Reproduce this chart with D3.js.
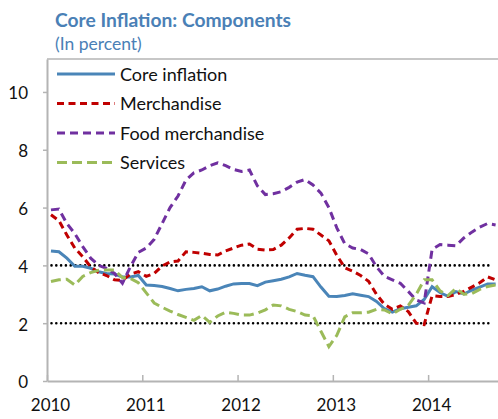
<!DOCTYPE html>
<html>
<head>
<meta charset="utf-8">
<script src="https://cdn.jsdelivr.net/npm/d3@7"></script>
<style>
  body { margin: 0; background: #fff; }
  svg { display: block; font-family: Lato, "Noto Sans", sans-serif; }
</style>
</head>
<body>
<svg id="chart" width="498" height="419"></svg>
<script>
// monthly data, Jan 2010 - Sep 2014
const startYear = 2010
const core = [4.5, 4.47, 4.25, 3.97, 3.97, 3.9, 3.78, 3.72, 3.7, 3.6, 3.6, 3.65,
  3.32, 3.3, 3.27, 3.2, 3.12, 3.17, 3.2, 3.26, 3.12, 3.18, 3.28, 3.36,
  3.37, 3.37, 3.3, 3.42, 3.47, 3.52, 3.6, 3.72, 3.66, 3.61, 3.25, 2.93,
  2.92, 2.96, 3.02, 2.97, 2.92, 2.75, 2.5, 2.38, 2.5, 2.55, 2.6, 2.82,
  3.26, 3.06, 2.93, 3.09, 3.01, 3.14, 3.25, 3.36, 3.36]
const merchandise = [5.75, 5.55, 5.05, 4.6, 4.3, 3.95, 3.75, 3.65, 3.5, 3.48, 3.7, 3.78,
  3.62, 3.72, 3.98, 4.12, 4.15, 4.47, 4.45, 4.42, 4.38, 4.36, 4.5, 4.6,
  4.7, 4.74, 4.56, 4.53, 4.55, 4.7, 4.95, 5.25, 5.28, 5.25, 5.05, 4.85,
  4.35, 3.92, 3.8, 3.65, 3.45, 3.0, 2.65, 2.48, 2.6, 2.4, 2.0, 1.95,
  2.95, 2.92, 2.92, 3.0, 3.1, 3.25, 3.4, 3.6, 3.5]
const foodMerchandise = [5.92, 5.95, 5.45, 5.1, 4.65, 4.25, 4.0, 3.9, 3.72, 3.38, 3.95, 4.45,
  4.6, 4.9, 5.45, 6.0, 6.4, 6.95, 7.2, 7.3, 7.45, 7.55, 7.45, 7.32,
  7.25, 7.3, 6.75, 6.45, 6.48, 6.55, 6.7, 6.88, 6.97, 6.78, 6.5, 6.0,
  5.3, 4.75, 4.6, 4.55, 4.4, 3.95, 3.62, 3.5, 3.38, 3.1, 2.8, 2.7,
  4.55, 4.72, 4.7, 4.68, 4.95, 5.15, 5.32, 5.45, 5.4]
const services = [3.44, 3.5, 3.52, 3.32, 3.62, 3.75, 3.83, 3.84, 3.84, 3.58, 3.55, 3.4,
  3.05, 2.7, 2.55, 2.42, 2.3, 2.2, 2.1, 2.27, 2.03, 2.25, 2.38, 2.34,
  2.28, 2.28, 2.35, 2.46, 2.63, 2.6, 2.48, 2.4, 2.28, 2.26, 1.72, 1.19,
  1.58, 2.22, 2.36, 2.36, 2.38, 2.48, 2.46, 2.32, 2.48, 2.62, 3.0, 3.5,
  3.5, 3.12, 2.95, 3.2, 3.0, 3.02, 3.17, 3.27, 3.32]
const seriesNames = ['Core inflation', 'Merchandise', 'Food merchandise', 'Services']
const yearTicks = [2010, 2011, 2012, 2013, 2014]
const yTicks = [0, 2, 4, 6, 8, 10]
const refLines = [4, 2]

const styles = [
  { color: '#4a85b8', dash: null },
  { color: '#c00000', dash: '7,4.5' },
  { color: '#7030a0', dash: '8,5' },
  { color: '#9bbb59', dash: '10,5' }
]
const allSeries = [core, merchandise, foodMerchandise, services]

const svg = d3.select('#chart')
const plotLeft = 47, plotTop = 59, plotBottom = 381
const monthW = 7.94

const x = d3.scaleLinear()
  .domain([startYear, startYear + core.length / 12])
  .range([plotLeft, plotLeft + core.length * monthW])
const y = d3.scaleLinear().domain([0, 11.14]).range([plotBottom, plotTop])

// title
svg.append('text')
  .attr('x', 55).attr('y', 27)
  .attr('font-size', 19).attr('font-weight', 'bold')
  .attr('fill', '#4a80b6')
  .attr('textLength', 236).attr('lengthAdjust', 'spacingAndGlyphs')
  .text('Core Inflation: Components')
svg.append('text')
  .attr('x', 55).attr('y', 50)
  .attr('font-size', 17.5)
  .attr('fill', '#4a80b6')
  .text('(In percent)')

// header rule
svg.append('line')
  .attr('x1', plotLeft).attr('x2', 498)
  .attr('y1', plotTop).attr('y2', plotTop)
  .attr('stroke', '#b4b4b4').attr('stroke-width', 1.5)

// y axis
const yAxis = svg.append('g')
  .attr('transform', `translate(${plotLeft},0)`)
  .call(d3.axisLeft(y).tickValues(yTicks).tickSizeInner(4).tickSizeOuter(0).tickPadding(15))
yAxis.select('.domain').attr('stroke', '#b4b4b4').attr('stroke-width', 2)
yAxis.selectAll('.tick line').attr('stroke', '#b4b4b4').attr('stroke-width', 1.5)
yAxis.selectAll('.tick text')
  .attr('font-family', 'Lato, sans-serif').attr('font-size', 17).attr('fill', '#111')
  .attr('dy', '0.4em')

// x axis
const xAxis = svg.append('g')
  .attr('transform', `translate(0,${plotBottom})`)
  .call(d3.axisBottom(x).tickValues(yearTicks).tickFormat(d3.format('d'))
    .tickSizeInner(-6).tickSizeOuter(0).tickPadding(18))
xAxis.select('.domain').attr('stroke', '#b4b4b4').attr('stroke-width', 2)
xAxis.selectAll('.tick line').attr('stroke', '#b4b4b4').attr('stroke-width', 1.5)
xAxis.selectAll('.tick text')
  .attr('font-family', 'Lato, sans-serif').attr('font-size', 17).attr('fill', '#111')
  .attr('dx', 3)

// dotted reference lines
svg.selectAll('.ref')
  .data(refLines)
  .join('line')
  .classed('ref', true)
  .attr('x1', plotLeft + 4.5).attr('x2', 490)
  .attr('y1', d => y(d)).attr('y2', d => y(d))
  .attr('stroke', '#000').attr('stroke-width', 2.6)
  .attr('stroke-linecap', 'round')
  .attr('stroke-dasharray', '0,4.8')

// series lines
const line = d3.line()
  .x((d, i) => x(startYear + (i + 0.5) / 12))
  .y(d => y(d))

svg.selectAll('.series')
  .data(allSeries)
  .join('path')
  .classed('series', true)
  .attr('d', line)
  .attr('fill', 'none')
  .attr('stroke', (d, i) => styles[i].color)
  .attr('stroke-width', 3)
  .attr('stroke-dasharray', (d, i) => styles[i].dash)

// legend
const legend = svg.append('g')
  .selectAll('g')
  .data(seriesNames)
  .join('g')
  .attr('transform', (d, i) => `translate(57,${74 + i * 29.5})`)
legend.append('line')
  .attr('x1', 0).attr('x2', 58)
  .attr('stroke', (d, i) => styles[i].color)
  .attr('stroke-width', 3)
  .attr('stroke-dasharray', (d, i) => styles[i].dash)
legend.append('text')
  .attr('x', 63).attr('y', 6.5)
  .attr('font-size', 18).attr('fill', '#111')
  .text(d => d)
</script>
</body>
</html>
